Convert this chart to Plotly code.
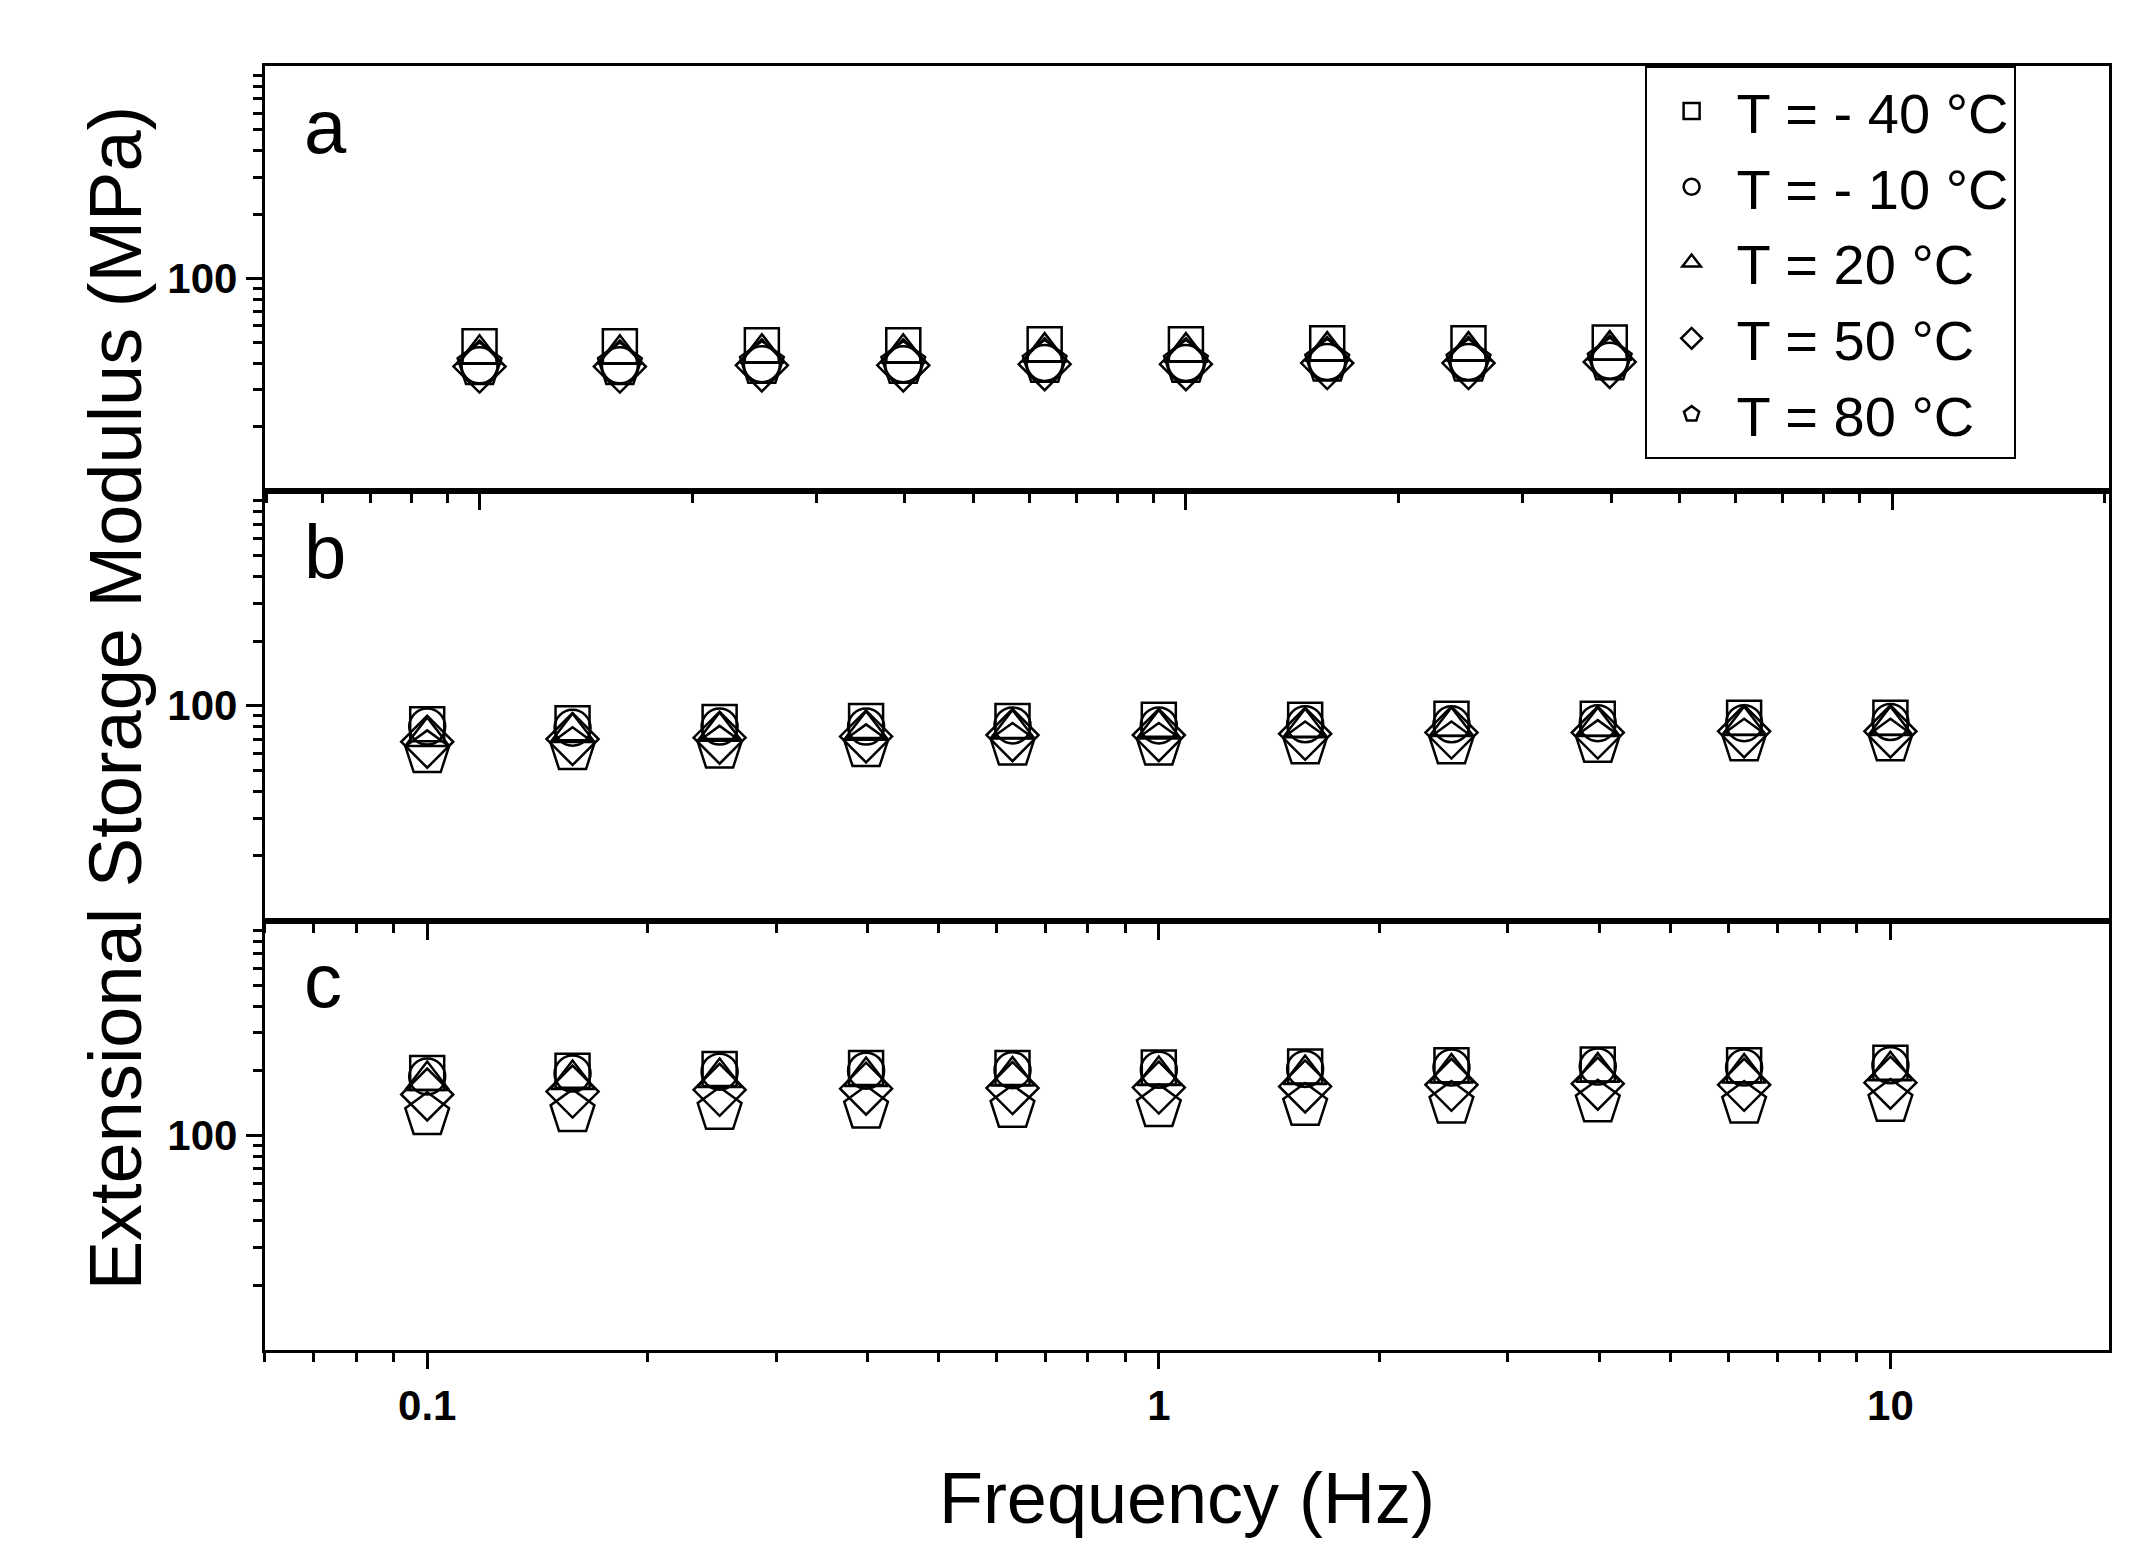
import plotly.graph_objects as go

freq = [0.1, 0.158, 0.251, 0.398, 0.631, 1.0, 1.585, 2.512, 3.981, 6.31, 10.0]
labels = ["T = - 40 °C", "T = - 10 °C", "T = 20 °C", "T = 50 °C", "T = 80 °C"]
symbols = ["square-open", "circle-open", "triangle-up-open", "diamond-open", "pentagon-open"]
sizes = [34, 36, 38, 40, 46]

a_vals = [
    [48, 48, 48.5, 48.5, 49, 49, 49.5, 49.5, 50, 50, 50.5],
    [39, 39, 39.5, 39.5, 40, 40, 40.5, 40.5, 41, 41, 41.5],
    [44, 44, 44.5, 44.5, 45, 45, 45.5, 45.5, 46, 46, 46.5],
    [38.5, 38.5, 39, 39, 39.5, 39.5, 40, 40, 40.5, 40.5, 41],
    [39, 39, 39.5, 39.5, 40, 40, 40.5, 40.5, 41, 41, 41.5],
]
b_vals = [
    [82, 83, 84, 85, 85, 86, 86, 87, 87, 88, 88],
    [80, 79, 80, 80, 81, 81, 82, 82, 83, 83, 84],
    [72, 75, 76, 77, 78, 78, 79, 80, 80, 81, 81],
    [68, 70, 71, 72, 73, 73, 74, 75, 75, 76, 76],
    [60, 62, 63, 64, 65, 65, 66, 66, 67, 68, 68],
]
c_vals = [
    [195, 200, 204, 206, 206, 207, 209, 212, 214, 212, 218],
    [188, 194, 198, 200, 201, 202, 204, 207, 209, 207, 212],
    [180, 182, 186, 188, 189, 190, 192, 195, 197, 195, 200],
    [155, 160, 163, 165, 166, 167, 169, 172, 174, 172, 176],
    [124, 128, 131, 133, 134, 135, 137, 140, 142, 140, 143],
]

panels = [("a", a_vals), ("b", b_vals), ("c", c_vals)]
fig = go.Figure()
for pi, (name, vals) in enumerate(panels):
    n = pi + 1
    for si in range(5):
        fig.add_trace(go.Scatter(
            x=freq, y=vals[si], mode="markers", name=labels[si],
            showlegend=(pi == 0),
            marker=dict(symbol=symbols[si], size=sizes[si], color="black",
                        line=dict(color="black", width=2.5)),
            xaxis="x" if n == 1 else f"x{n}", yaxis="y" if n == 1 else f"y{n}",
        ))

domains_y = [[0.692, 0.963], [0.418, 0.692], [0.144, 0.418]]
xranges = [[-1.304, 1.307], [-1.222, 1.299], [-1.222, 1.299]]
minor_x = [v * 10 ** e for e in (-2, -1, 0, 1) for v in range(2, 10)]
minor_y = [v * 10 ** e for e in (1, 2) for v in range(2, 10)]
tickfont = dict(family="Liberation Sans Narrow, Arial Narrow, Liberation Sans", size=42, color="black")

layout = dict(
    width=2131, height=1568, margin=dict(l=0, r=0, t=0, b=0),
    paper_bgcolor="white", plot_bgcolor="white",
    font=dict(family="Liberation Sans, Arial", color="black"),
    legend=dict(x=0.768, y=0.963, xanchor="left", yanchor="top",
                bordercolor="black", borderwidth=2, bgcolor="white",
                font=dict(size=56, family="Liberation Sans, Arial"),
                itemwidth=80, tracegroupgap=0, itemsizing="trace"),
)
for i in range(3):
    n = i + 1
    xk = "xaxis" if n == 1 else f"xaxis{n}"
    yk = "yaxis" if n == 1 else f"yaxis{n}"
    layout[xk] = dict(
        type="log", range=xranges[i], domain=[0.1205, 0.986],
        anchor="y" if n == 1 else f"y{n}",
        showline=True, linecolor="black", linewidth=3, mirror=True,
        ticks="outside", ticklen=16, tickwidth=3, tickcolor="black",
        tickvals=[0.1, 1, 10], ticktext=["<b>0.1</b>", "<b>1</b>", "<b>10</b>"],
        showticklabels=(n == 3), tickfont=tickfont, showgrid=False, zeroline=False,
        minor=dict(tickvals=minor_x, ticks="outside", ticklen=9, tickwidth=3, tickcolor="black", showgrid=False),
    )
    layout[yk] = dict(
        type="log", range=[1, 3], domain=domains_y[i],
        anchor="x" if n == 1 else f"x{n}",
        showline=True, linecolor="black", linewidth=3, mirror=True,
        ticks="outside", ticklen=16, tickwidth=3, tickcolor="black",
        tickvals=[100], ticktext=["<b>100</b>"], tickfont=tickfont,
        showgrid=False, zeroline=False,
        minor=dict(tickvals=minor_y, ticks="outside", ticklen=9, tickwidth=3, tickcolor="black", showgrid=False),
    )
layout["xaxis3"]["title"] = dict(text="Frequency (Hz)", font=dict(size=72), standoff=45)
fig.update_layout(**layout)

for i, (name, _) in enumerate(panels):
    fig.add_annotation(text=name, xref="paper", yref="paper",
                       x=0.138, y=domains_y[i][1] - 0.01, xanchor="left", yanchor="top",
                       showarrow=False, font=dict(size=76, color="black"))
fig.add_annotation(text="Extensional Storage Modulus (MPa)", xref="paper", yref="paper",
                   x=0.03, y=0.56, textangle=-90, showarrow=False,
                   font=dict(size=74, color="black"))

fig.write_html("out.html")
